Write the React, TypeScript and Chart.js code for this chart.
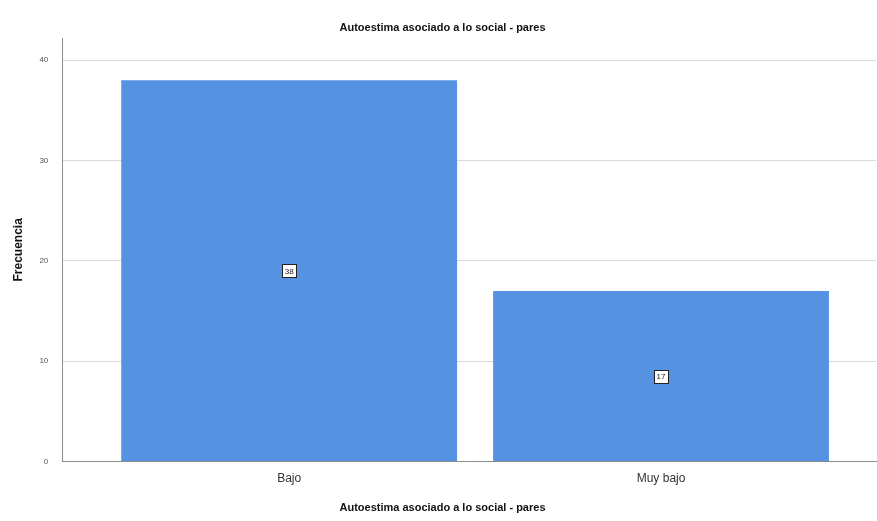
import React, { useEffect, useRef } from "react";
import { Chart, registerables } from "chart.js";

Chart.register(...registerables);

const categories = ["Bajo", "Muy bajo"];
const frequencies = [38, 17];
const chartTitle = "Autoestima asociado a lo social - pares";
const xTitle = "Autoestima asociado a lo social - pares";
const yTitle = "Frecuencia";

const FONT = "'Liberation Sans', Arial, sans-serif";

const valueLabels = {
  id: "valueLabels",
  afterDatasetsDraw(chart: any) {
    const ctx = chart.ctx;
    const meta = chart.getDatasetMeta(0);
    const yScale = chart.scales.y;
    ctx.save();
    ctx.font = `8px ${FONT}`;
    ctx.textAlign = "center";
    ctx.textBaseline = "middle";
    meta.data.forEach((bar: any, i: number) => {
      const v = frequencies[i];
      const cx = bar.x;
      const cy = yScale.getPixelForValue(v / 2);
      const text = String(v);
      const w = ctx.measureText(text).width + 5;
      const h = 13;
      ctx.fillStyle = "#ffffff";
      ctx.fillRect(Math.round(cx - w / 2) + 0.5, Math.round(cy - h / 2) + 0.5, Math.round(w), h);
      ctx.strokeStyle = "#222222";
      ctx.lineWidth = 1;
      ctx.strokeRect(Math.round(cx - w / 2) + 0.5, Math.round(cy - h / 2) + 0.5, Math.round(w), h);
      ctx.fillStyle = "#222222";
      ctx.fillText(text, cx, cy + 0.5);
    });
    ctx.restore();
  },
};

export default function App() {
  const ref = useRef<HTMLCanvasElement>(null);
  useEffect(() => {
    document.body.style.margin = "0";
    const chart = new Chart(ref.current!, {
      type: "bar",
      data: {
        datasets: [
          {
            data: frequencies.map((v, i) => ({ x: i, y: v })),
            backgroundColor: "#5592e2",
            borderWidth: 0,
            categoryPercentage: 1,
            barPercentage: 0.903,
          },
        ],
      },
      options: {
        animation: false,
        responsive: false,
        maintainAspectRatio: false,
        layout: { padding: { left: 9, right: 1, top: 0, bottom: 0 } },
        plugins: {
          legend: { display: false },
          tooltip: { enabled: false },
          title: {
            display: true,
            text: chartTitle,
            color: "#111111",
            font: { family: FONT, size: 11, weight: "bold" },
            padding: { top: 21, bottom: 4 },
          },
          subtitle: {
            display: true,
            position: "bottom",
            text: xTitle,
            color: "#111111",
            font: { family: FONT, size: 11, weight: "bold" },
            padding: { top: 6, bottom: 6 },
          },
        },
        scales: {
          x: {
            type: "linear",
            offset: false,
            min: -0.61,
            max: 1.578,
            grid: { display: false, drawTicks: false },
            border: { display: true, color: "#8c8c8c", width: 1 },
            ticks: {
              stepSize: 1,
              includeBounds: false,
              padding: 10,
              color: "#333333",
              font: { family: FONT, size: 12 },
              callback: (v: any) => categories[v as number] ?? "",
            },
          },
          y: {
            min: 0,
            max: 42.2,
            grid: { color: "#d9d9d9", drawTicks: false },
            border: { display: true, color: "#8c8c8c", width: 1 },
            ticks: {
              stepSize: 10,
              includeBounds: false,
              padding: 14,
              color: "#555555",
              font: { family: FONT, size: 8 },
            },
            title: {
              display: true,
              text: yTitle,
              color: "#111111",
              font: { family: FONT, size: 12, weight: "bold" },
              padding: { top: 2, bottom: 0 },
            },
          },
        },
      },
      plugins: [valueLabels],
    } as any);
    return () => chart.destroy();
  }, []);
  return (
    <div style={{ position: "absolute", left: 0, top: 0, width: 877, height: 521 }}>
      <canvas ref={ref} width={877} height={521} style={{ width: 877, height: 521 }} />
    </div>
  );
}
